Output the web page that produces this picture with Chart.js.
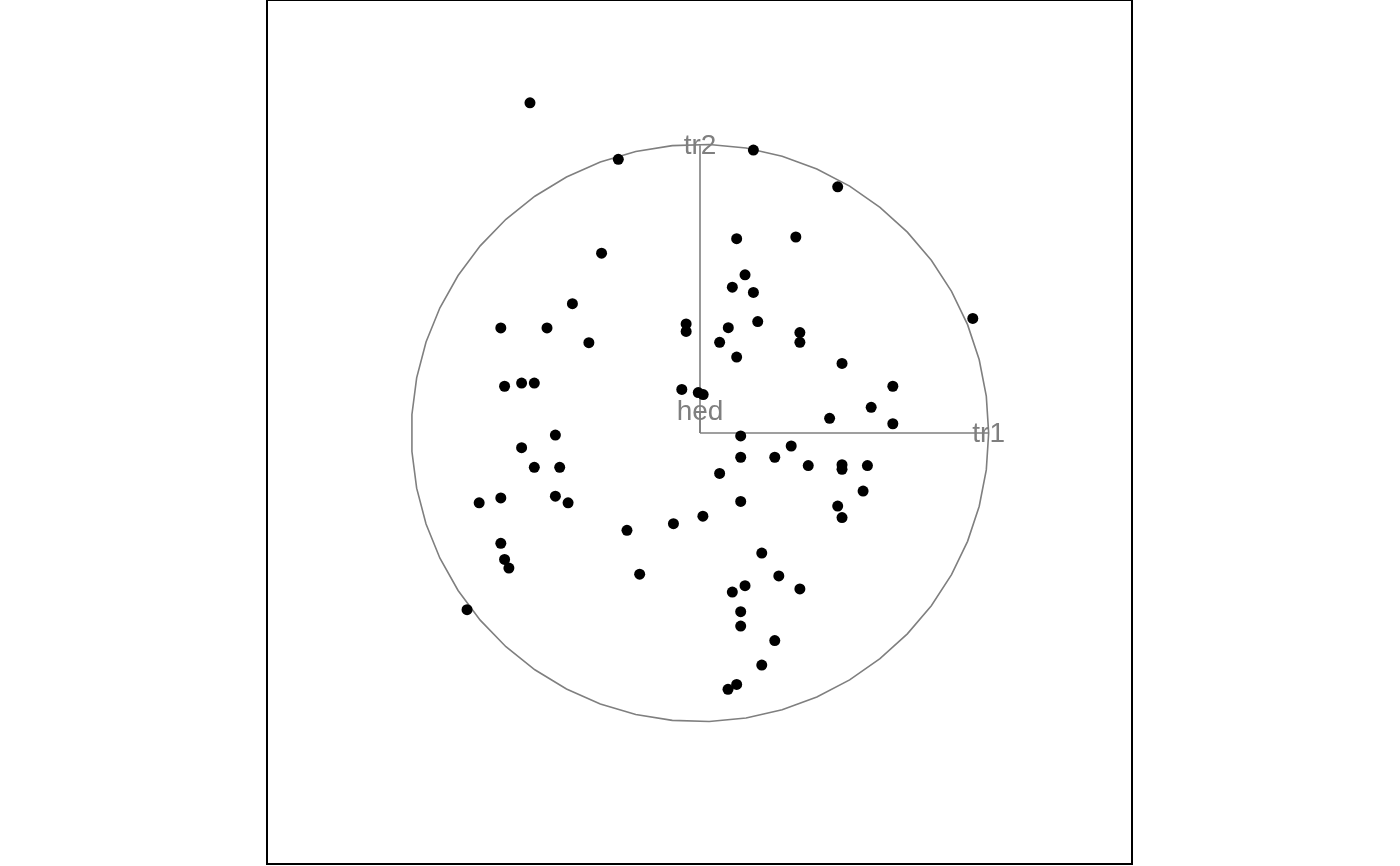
<!DOCTYPE html>
<html>
<head>
<meta charset="utf-8">
<script src="https://cdn.jsdelivr.net/npm/chart.js@4"></script>
<style>
    html, body { margin: 0; padding: 0; background: #ffffff; }
    #wrap { width: 1400px; height: 866px; }
    canvas { display: block; }
</style>
</head>
<body>
<div id="wrap"><canvas id="tourChart" width="1400" height="866"></canvas></div>
<script>
// projected points (tr1/tr2 plane)
const projX = [
    -0.589, -0.283, 0.185, 0.477, -0.341, 0.127, 0.332, 0.156, 0.112, 0.185,
    -0.442, 0.945, -0.690, -0.530, -0.048, -0.048, 0.098, 0.200, 0.346, 0.346,
    -0.385, 0.068, 0.127, 0.492, -0.677, -0.618, -0.574, -0.063, -0.006, 0.011,
    0.668, 0.593, 0.449, 0.668, 0.141, -0.501, -0.618, 0.316, 0.141, 0.259,
    -0.574, -0.486, 0.375, 0.492, 0.492, 0.580, 0.068, 0.565, -0.690, -0.765,
    -0.501, -0.457, 0.141, 0.477, 0.010, -0.092, 0.492, -0.253, -0.690, -0.677,
    -0.662, 0.214, -0.209, 0.273, 0.156, 0.112, 0.346, 0.141, 0.141, -0.807,
    0.259, 0.214, 0.127, 0.097
];
const projY = [
    1.144, 0.948, 0.980, 0.853, 0.623, 0.673, 0.679, 0.548, 0.505, 0.487,
    0.448, 0.397, 0.364, 0.364, 0.378, 0.352, 0.365, 0.386, 0.348, 0.314,
    0.313, 0.314, 0.263, 0.241, 0.162, 0.173, 0.173, 0.151, 0.140, 0.133,
    0.162, 0.089, 0.051, 0.032, -0.010, -0.007, -0.051, -0.045, -0.084, -0.084,
    -0.119, -0.119, -0.113, -0.110, -0.126, -0.113, -0.140, -0.201, -0.225, -0.242,
    -0.219, -0.242, -0.237, -0.253, -0.288, -0.314, -0.293, -0.337, -0.382, -0.438,
    -0.468, -0.416, -0.489, -0.495, -0.529, -0.551, -0.540, -0.619, -0.669, -0.612,
    -0.719, -0.804, -0.871, -0.888
];

// projection axes (variable contributions)
const axisNames = ["tr1", "tr2", "hed"];
const axisX = [1.0, 0.0, 0.0];
const axisY = [0.0, 0.997, 0.075];

const GREY = "#7f7f7f";

const points = projX.map((x, i) => ({ x: x, y: projY[i] }));

// reference circle, 50 vertices like the tour axes
const circle = [];
for (let i = 0; i < 50; i++) {
    const t = (2 * Math.PI * i) / 49;
    circle.push({ x: Math.cos(t), y: Math.sin(t) });
}

const axisSets = axisNames.map((name, i) => ({
    label: name,
    data: [{ x: 0, y: 0 }, { x: axisX[i], y: axisY[i] }],
    showLine: true,
    borderColor: GREY,
    borderWidth: 1.6,
    pointRadius: 0,
    order: 2,
}));

// frame + axis labels
const framePlugin = {
    id: "frame",
    beforeDatasetsDraw(chart) {
        const ctx = chart.ctx;
        const xs = chart.scales.x;
        const ys = chart.scales.y;
        ctx.save();
        ctx.fillStyle = GREY;
        ctx.font = "28px 'Liberation Sans', Arial, sans-serif";
        ctx.textAlign = "center";
        ctx.textBaseline = "middle";
        axisNames.forEach((name, i) => {
            ctx.fillText(name, xs.getPixelForValue(axisX[i]), ys.getPixelForValue(axisY[i]) + 1);
        });
        ctx.restore();
    },
    afterDraw(chart) {
        const a = chart.chartArea;
        const ctx = chart.ctx;
        ctx.save();
        ctx.strokeStyle = "#000000";
        ctx.lineWidth = 2;
        ctx.strokeRect(a.left, a.top, a.right - a.left - 1, a.bottom - a.top - 2);
        ctx.restore();
    },
};

new Chart(document.getElementById("tourChart").getContext("2d"), {
    type: "scatter",
    data: {
        datasets: [
            {
                label: "points",
                data: points,
                backgroundColor: "#000000",
                borderColor: "#000000",
                borderWidth: 0,
                pointRadius: 5.5,
                order: 0,
            },
            {
                label: "circle",
                data: circle,
                showLine: true,
                borderColor: GREY,
                borderWidth: 1.6,
                pointRadius: 0,
                order: 3,
            },
            ...axisSets,
        ],
    },
    options: {
        responsive: false,
        animation: false,
        layout: { autoPadding: false, padding: { left: 267, right: 267, top: 0, bottom: 0 } },
        scales: {
            x: { type: "linear", min: -1.5, max: 1.5, display: false },
            y: { type: "linear", min: -1.5, max: 1.5, display: false },
        },
        plugins: {
            legend: { display: false },
            tooltip: { enabled: false },
        },
    },
    plugins: [framePlugin],
});
</script>
</body>
</html>
